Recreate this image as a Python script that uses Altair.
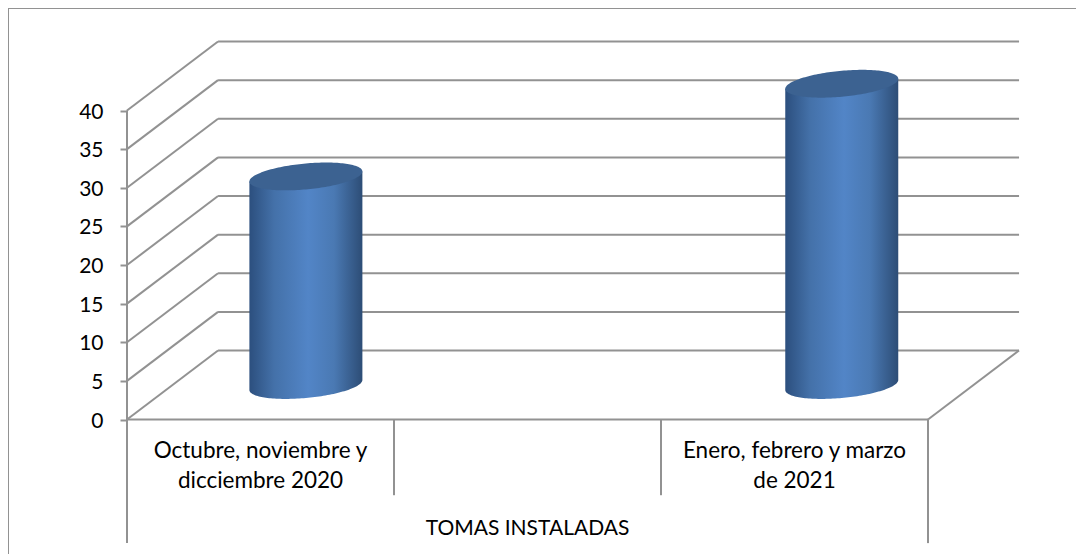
import numpy as np
import pandas as pd
import altair as alt

# Data
categories = [["Octubre, noviembre y", "dicciembre 2020"], ["Enero, febrero y marzo", "de 2021"]]
group_label = "TOMAS INSTALADAS"
values = [27, 39]
y_ticks = [0, 5, 10, 15, 20, 25, 30, 35, 40]

# Oblique 3D projection, in axis units (x: category widths, y: value units)
DX, DY = 0.341, 8.93
bar_x = [0.67, 2.677]
ELL_A, ELL_B, ELL_S = 0.2116, 1.68, 0.65
GREY = "#929292"
FONT = "Lato"
FS = 21

X_MIN, X_MAX = -0.4457, 3.5543
Y_MIN, Y_MAX = -17.41, 53.27
X = alt.Scale(domain=[X_MIN, X_MAX], nice=False, zero=False)
Y = alt.Scale(domain=[Y_MIN, Y_MAX], nice=False, zero=False)
y_axis = alt.Axis(
    values=y_ticks, title=None, grid=False, domain=False, offset=-119,
    tickColor=GREY, tickWidth=2, tickSize=7,
    labelFont=FONT, labelFontSize=FS, labelColor="#000000", labelPadding=17, labelOffset=1.5,
)
x_q = lambda f="x": alt.X(f"{f}:Q", scale=X, axis=None)
y_q = lambda f="y": alt.Y(f"{f}:Q", scale=Y, axis=y_axis)

# Lines of the 3D frame
seg = []
def add(x0, y0, x1, y1):
    g = len(seg) // 2
    seg.extend([dict(g=g, x=x0, y=y0), dict(g=g, x=x1, y=y1)])

for t in y_ticks:
    add(0, t, DX, t + DY)
    add(DX, t + DY, 3 + DX, t + DY)
add(0, 40, 0, -16)
add(3, 0, 3, -16)
add(1, 0, 1, -9.8)
add(2, 0, 2, -9.8)
add(0, 0, 3, 0)
add(3, 0, 3 + DX, DY)
# outer chart border: only its top and left edges show
add(X_MIN, Y_MAX, X_MAX, Y_MAX)
add(X_MIN, Y_MAX, X_MIN, Y_MIN)

lines = alt.Chart(pd.DataFrame(seg)).mark_line(color=GREY, strokeWidth=2).encode(
    x=x_q(), y=y_q(), detail="g:N"
)

# Cylinders
u = np.cos(np.linspace(0, np.pi, 81))
body_rows, top_rows = [], []
for i, (cx, v) in enumerate(zip(bar_x, values)):
    c0, c1 = DY / 2, v + DY / 2
    for w in u:
        r = ELL_B * np.sqrt(max(0.0, 1 - w * w))
        x = cx + ELL_A * w
        body_rows.append(dict(i=i, x=x, y=c1 + ELL_S * w, y2=c0 + ELL_S * w - r))
        top_rows.append(dict(i=i, x=x, y=c1 + ELL_S * w + r, y2=c1 + ELL_S * w - r))
body_df, top_df = pd.DataFrame(body_rows), pd.DataFrame(top_rows)

gradient = alt.LinearGradient(
    gradient="linear", x1=0, x2=1, y1=0, y2=0,
    stops=[
        alt.GradientStop(color="#2c4f7e", offset=0),
        alt.GradientStop(color="#4471a9", offset=0.22),
        alt.GradientStop(color="#5285c7", offset=0.52),
        alt.GradientStop(color="#4a79b3", offset=0.75),
        alt.GradientStop(color="#2d4d76", offset=1),
    ],
)
cyl = []
for i in range(len(values)):
    cyl.append(alt.Chart(body_df[body_df.i == i]).mark_area(color=gradient, orient="vertical").encode(
        x=x_q(), y=y_q(), y2="y2:Q"))
    cyl.append(alt.Chart(top_df[top_df.i == i]).mark_area(color="#3c6291", orient="vertical").encode(
        x=x_q(), y=y_q(), y2="y2:Q"))

# Category labels
rows = []
for cat, xc in zip(categories, [0.5, 2.5]):
    for j, line in enumerate(cat):
        rows.append(dict(x=xc, y=-4.1 - 3.88 * j, t=line))
labels = alt.Chart(pd.DataFrame(rows)).mark_text(
    font=FONT, fontSize=22.5, color="#000000", baseline="middle", align="center"
).encode(x=x_q(), y=y_q(), text="t:N")
group = alt.Chart(pd.DataFrame([dict(x=1.5, y=-14.15, t=group_label)])).mark_text(
    font=FONT, fontSize=FS, color="#000000", baseline="middle", align="center"
).encode(x=x_q(), y=y_q(), text="t:N")

chart = alt.layer(lines, *cyl, labels, group).properties(
    width=1068, height=546, padding=0, autosize=alt.AutoSizeParams(type="none"), background="#ffffff"
).configure_view(stroke="transparent", strokeWidth=0)

chart.save("out.html", embed_options={"renderer": "svg", "actions": False})
